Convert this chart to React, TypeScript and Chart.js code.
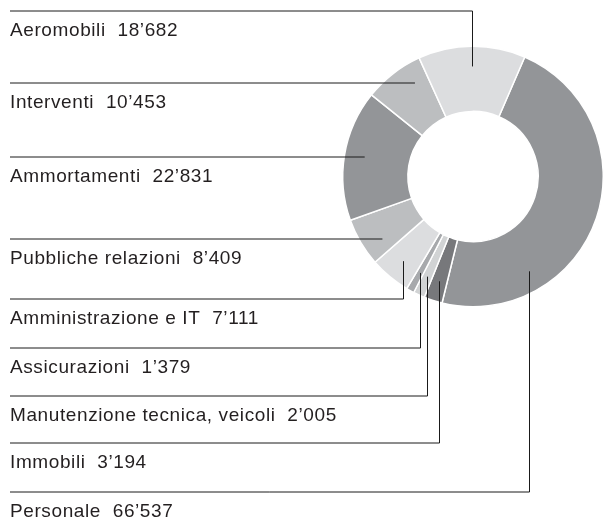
import React, { useEffect, useRef } from "react";
import { Chart, registerables } from "chart.js";

Chart.register(...registerables);

// Categories in the order of the label list (top to bottom)
const categories = [
  "Aeromobili",
  "Interventi",
  "Ammortamenti",
  "Pubbliche relazioni",
  "Amministrazione e IT",
  "Assicurazioni",
  "Manutenzione tecnica, veicoli",
  "Immobili",
  "Personale",
];
const values = [18682, 10453, 22831, 8409, 7111, 1379, 2005, 3194, 66537];
const valueLabels = ["18’682", "10’453", "22’831", "8’409", "7’111", "1’379", "2’005", "3’194", "66’537"];
const colors = ["#dcdddf", "#bcbec0", "#939598", "#bcbec0", "#dcdddf", "#a7a9ac", "#d1d3d4", "#77787b", "#939598"];

// Layout of the label list (plugin options)
const labelLineY = [11, 83, 157, 239, 299, 348, 396, 443, 492];
const leaderKind = ["down", "side", "side", "side", "up", "up", "up", "up", "up"];
const anchorFraction = [0.5, 0.5, 0.5, 0.5, 0.5, 0.5, 0.5, 0.5, 0.74];

const leaderPlugin = {
  id: "leaderLabels",
  afterDatasetsDraw(chart: any) {
    const meta = chart.getDatasetMeta(0);
    const ctx = chart.ctx;
    const n = categories.length;
    ctx.save();
    for (let i = 0; i < n; i++) {
      const arc = meta.data[n - 1 - i];
      if (!arc) continue;
      const p = arc.getProps(["x", "y", "startAngle", "endAngle", "innerRadius", "outerRadius"], true);
      const r = p.outerRadius * 0.845;
      const a = p.startAngle + (p.endAngle - p.startAngle) * anchorFraction[i];
      const ax = p.x + r * Math.cos(a);
      const ay = p.y + r * Math.sin(a);
      const ly = labelLineY[i];
      ctx.strokeStyle = "#1a1a1a";
      ctx.lineWidth = 1;
      ctx.beginPath();
      if (leaderKind[i] === "side") {
        const dy = ly - p.y;
        const ex = p.x - Math.sqrt(Math.max(r * r - dy * dy, 0));
        ctx.moveTo(10, ly);
        ctx.lineTo(ex, ly);
      } else {
        const vx = Math.round(ax) + 0.5;
        ctx.moveTo(10, ly);
        ctx.lineTo(vx, ly);
        ctx.lineTo(vx, ay);
      }
      ctx.stroke();
      ctx.fillStyle = "#231f20";
      ctx.font = "19px 'Liberation Sans', Arial, sans-serif";
      (ctx as any).letterSpacing = "0.6px";
      ctx.textBaseline = "alphabetic";
      ctx.textAlign = "left";
      ctx.fillText(categories[i] + "  " + valueLabels[i], 10, ly + 25);
      (ctx as any).letterSpacing = "0px";
    }
    ctx.restore();
  },
};

export default function App() {
  const ref = useRef<HTMLCanvasElement | null>(null);
  useEffect(() => {
    if (!ref.current) return;
    const order = categories.map((_, i) => categories.length - 1 - i);
    const chart = new Chart(ref.current, {
      type: "doughnut",
      data: {
        labels: order.map((i) => categories[i]),
        datasets: [
          {
            data: order.map((i) => values[i]),
            backgroundColor: order.map((i) => colors[i]),
            borderColor: "#ffffff",
            borderWidth: 1.5,
          },
        ],
      },
      options: {
        animation: false,
        responsive: true,
        maintainAspectRatio: false,
        rotation: 23.4,
        cutout: "50%",
        layout: { padding: { left: 342, top: 45, right: 0, bottom: 211 } },
        plugins: { legend: { display: false }, tooltip: { enabled: false } },
      },
      plugins: [leaderPlugin],
    });
    return () => chart.destroy();
  }, []);
  return (
    <div style={{ position: "fixed", left: 0, top: 0, width: 604, height: 519, background: "#fff" }}>
      <canvas ref={ref} />
    </div>
  );
}
